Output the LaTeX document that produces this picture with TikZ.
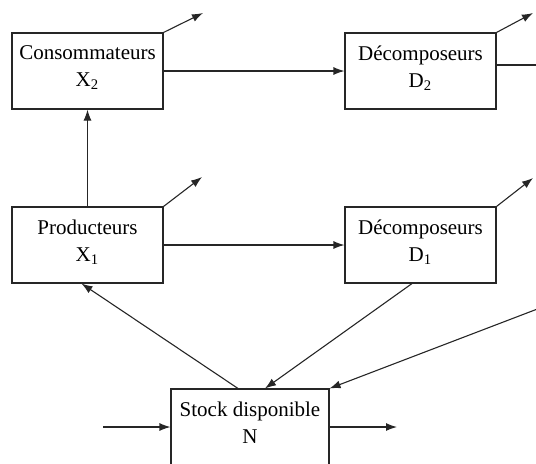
\documentclass[tikz,border=0pt]{standalone}
\usepackage{fontspec}
\setmainfont{Liberation Serif}
\usetikzlibrary{arrows.meta}
\begin{document}
\begin{tikzpicture}[>={Latex[length=5.5pt,width=4pt]},x=0.5pt,y=-0.5pt,
    line width=0.55pt,draw=black!85,
    compart/.style 2 args={draw,rectangle,minimum width=#1,minimum height=38pt,inner sep=0pt,
      label={[anchor=north,align=center,inner sep=3.5pt,yshift=-2.8pt,font=\fontsize{10.5}{13.5}\selectfont]north:#2}}]
  \useasboundingbox (0,0) rectangle (536,463);
  \clip (0,0) rectangle (536,463);
  % compartiments
  \node[compart={75.5pt}{Consommateurs\\X\textsubscript{2}}] (cons) at (87.5,71) {};
  \node[compart={75.5pt}{D\'ecomposeurs\\D\textsubscript{2}}] (dec2) at (420.5,71) {};
  \node[compart={75.5pt}{Producteurs\\X\textsubscript{1}}] (prod) at (87.5,245) {};
  \node[compart={75.5pt}{D\'ecomposeurs\\D\textsubscript{1}}] (dec1) at (420.5,245) {};
  \node[compart={79pt}{Stock disponible\\N}] (stock) at (250,427) {};
  % pertes et flux ouverts
  \coordinate (pcons) at (203,13);
  \coordinate (pdec2) at (533,13);
  \coordinate (pprod) at (202,177);
  \coordinate (pdec1) at (533,178);
  \coordinate (sdec2) at (540,65);
  \coordinate (rstock) at (540,308);
  \coordinate (instock) at (103,427);
  \coordinate (outstock) at (397,427);
  \draw[->] (cons.north east) -- (pcons);
  \draw[->] (dec2.north east) -- (pdec2);
  \draw[->] (prod.north east) -- (pprod);
  \draw[->] (dec1.north east) -- (pdec1);
  \draw (dec2.east |- sdec2) -- (sdec2);
  % flux entre compartiments
  \draw[->] (cons) -- (dec2);
  \draw[->] (prod) -- (dec1);
  \draw[->] (prod) -- (cons);
  \draw[->] ([xshift=-6pt]stock.north) -- ([xshift=-3pt]prod.south);
  \draw[->] ([xshift=-4.25pt]dec1.south) -- ([xshift=7.5pt]stock.north);
  \draw[->] (rstock) -- (stock.north east);
  \draw[->] (instock) -- (stock);
  \draw[->] (stock) -- (outstock);
\end{tikzpicture}
\end{document}
